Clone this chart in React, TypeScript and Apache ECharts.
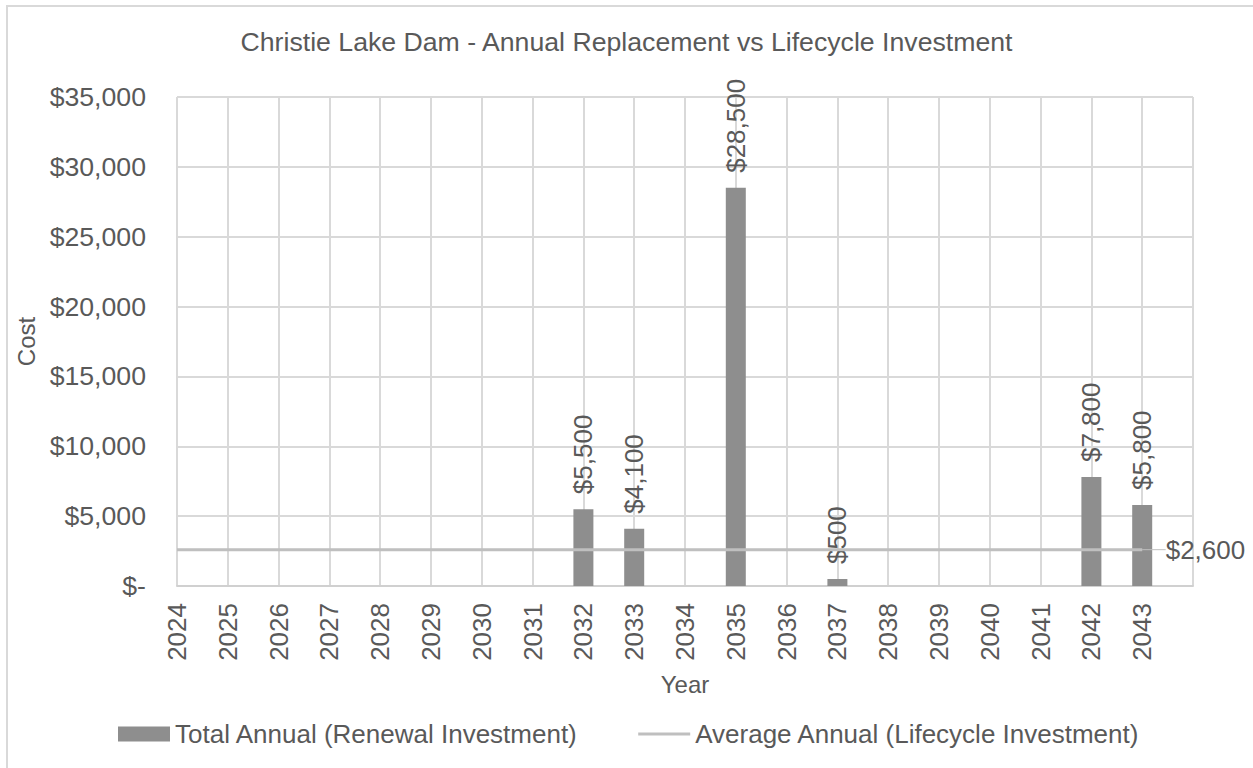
import React, { useEffect, useRef } from "react";
import * as echarts from "echarts";

const years = ["2024","2025","2026","2027","2028","2029","2030","2031","2032","2033","2034","2035","2036","2037","2038","2039","2040","2041","2042","2043"];
const renewal: (number | null)[] = [null,null,null,null,null,null,null,null,5500,4100,null,28500,null,500,null,null,null,null,7800,5800];
const averageValue = 2600;
const yTicks = { min: 0, max: 35000, interval: 5000 };

const TEXT = "#595959";
const FONT = "'Liberation Sans', Arial, sans-serif";

const money = (v: number) => (v === 0 ? "$-" : "$" + v.toLocaleString("en-US"));

export default function App() {
  const ref = useRef<HTMLDivElement>(null);
  useEffect(() => {
    if (!ref.current) return;
    const chart = echarts.init(ref.current, undefined, { renderer: "svg" });
    const cats = [...years, ""];
    const barData = [...renewal, null];
    const avgData: any[] = years.map((_, i) =>
      i === years.length - 1
        ? {
            value: averageValue,
            symbol: "circle",
            symbolSize: 1,
            label: {
              show: true,
              position: "right",
              distance: 8,
              formatter: (p: any) => money(p.value),
              color: TEXT,
              fontSize: 26,
              fontFamily: FONT,
            },
            labelLine: { show: true, lineStyle: { color: "#BFBFBF", width: 1 } },
          }
        : averageValue
    );
    chart.setOption({
      animation: false,
      textStyle: { fontFamily: FONT, color: TEXT },
      title: {
        text: "Christie Lake Dam - Annual Replacement vs Lifecycle Investment",
        left: "center",
        top: 23,
        textStyle: { fontSize: 26.67, fontWeight: "normal", color: TEXT, fontFamily: FONT },
      },
      graphic: [
        {
          type: "rect",
          shape: { x: 7, y: 6, width: 1270, height: 790 },
          style: { fill: "none", stroke: "#D9D9D9", lineWidth: 2 },
          silent: true,
        },
      ],
      legend: {
        left: 118,
        top: 721,
        padding: 0,
        itemGap: 60,
        itemWidth: 52,
        itemHeight: 15,
        textStyle: { fontSize: 26, color: TEXT, fontFamily: FONT, padding: [0, 0, 0, 0] },
        data: [
          { name: "Total Annual (Renewal Investment)", icon: "rect" },
          { name: "Average Annual (Lifecycle Investment)", icon: "path://M0,0H52V3H0Z" },
        ],
      },
      grid: { left: 177, top: 97, right: 60, bottom: 182, containLabel: false },
      xAxis: {
        type: "category",
        data: cats,
        boundaryGap: false,
        name: "Year",
        nameLocation: "middle",
        nameGap: 86,
        nameTextStyle: { fontSize: 24, color: TEXT, fontFamily: FONT },
        axisLine: { show: true, lineStyle: { color: "#D0D0D0", width: 2 } },
        axisTick: { show: false },
        axisLabel: { rotate: 90, fontSize: 26, color: TEXT, margin: 17, interval: 0, fontFamily: FONT },
        splitLine: { show: true, interval: 0, lineStyle: { color: "#D9D9D9", width: 2 } },
      },
      yAxis: {
        type: "value",
        min: yTicks.min,
        max: yTicks.max,
        interval: yTicks.interval,
        name: "Cost",
        nameLocation: "middle",
        nameRotate: 90,
        nameGap: 139,
        nameTextStyle: { fontSize: 24, color: TEXT, fontFamily: FONT },
        axisLine: { show: false },
        axisTick: { show: false },
        axisLabel: { fontSize: 26.67, color: TEXT, margin: 31, formatter: money, fontFamily: FONT },
        splitLine: { show: true, lineStyle: { color: "#D9D9D9", width: 2 } },
      },
      series: [
        {
          name: "Total Annual (Renewal Investment)",
          type: "bar",
          data: barData,
          barWidth: 20,
          itemStyle: { color: "#8E8E8E" },
          label: {
            show: true,
            position: "top",
            rotate: 90,
            align: "left",
            verticalAlign: "middle",
            distance: 15,
            fontSize: 26,
            color: TEXT,
            fontFamily: FONT,
            formatter: (p: any) => (p.value == null ? "" : money(p.value)),
          },
          z: 2,
        },
        {
          name: "Average Annual (Lifecycle Investment)",
          type: "line",
          data: avgData,
          symbol: "none",
          showSymbol: true,
          lineStyle: { color: "#BFBFBF", width: 3 },
          itemStyle: { color: "#BFBFBF" },
          labelLayout: { dx: 15 },
          z: 3,
        },
      ],
    });
    return () => chart.dispose();
  }, []);
  return <div ref={ref} style={{ position: "absolute", left: 0, top: 0, width: 1253, height: 768 }} />;
}
